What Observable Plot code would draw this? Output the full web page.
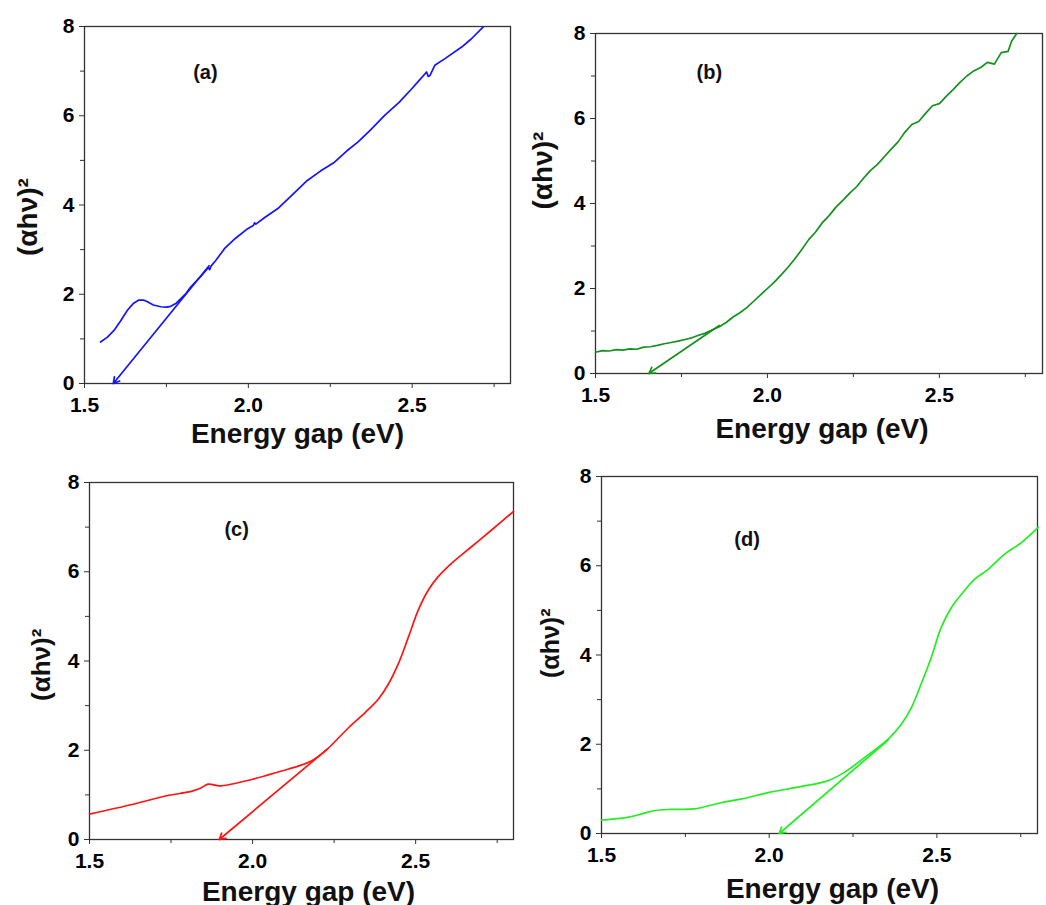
<!DOCTYPE html>
<html>
<head>
<meta charset="utf-8">
<script src="https://cdn.jsdelivr.net/npm/d3@7"></script>
<script src="https://cdn.jsdelivr.net/npm/@observablehq/plot@0.6"></script>
<style>
  html, body { margin: 0; padding: 0; background: #fff; }
  #wrap { position: relative; width: 1046px; height: 905px; overflow: hidden; background: #fff; }
  svg { font-family: "Liberation Sans", Arial, sans-serif; overflow: visible; }
</style>
</head>
<body>
<div id="wrap"></div>
<script>
// ---------- data ----------
const xTicksMajor = [1.5, 2.0, 2.5];
const xTicksMinor = [1.75, 2.25, 2.75];
const yTicksMajor = [0, 2, 4, 6, 8];
const yTicksMinor = [1, 3, 5, 7];
const xTitle = "Energy gap (eV)";
const yTitle = "(αhν)²";
const panelLabels = ["(a)", "(b)", "(c)", "(d)"];

// (a)
const aX = [1.549, 1.57, 1.59, 1.61, 1.631, 1.65, 1.666, 1.68, 1.692, 1.71, 1.733, 1.75, 1.763, 1.78, 1.794, 1.81, 1.824, 1.85, 1.87, 1.878, 1.882, 1.886, 1.90, 1.927, 1.96, 1.998, 2.015, 2.019, 2.023, 2.05, 2.09, 2.13, 2.18, 2.22, 2.263, 2.30, 2.334, 2.37, 2.416, 2.46, 2.498, 2.52, 2.544, 2.549, 2.554, 2.569, 2.60, 2.651, 2.68, 2.717];
const aY = [0.93, 1.04, 1.19, 1.40, 1.64, 1.80, 1.87, 1.87, 1.83, 1.76, 1.72, 1.71, 1.73, 1.80, 1.90, 2.02, 2.16, 2.36, 2.53, 2.60, 2.55, 2.63, 2.75, 3.02, 3.25, 3.47, 3.54, 3.60, 3.57, 3.72, 3.92, 4.20, 4.55, 4.76, 4.96, 5.21, 5.41, 5.66, 6.01, 6.30, 6.60, 6.78, 6.98, 6.88, 6.90, 7.13, 7.28, 7.54, 7.72, 7.99];
const aFitX = [1.88, 1.588];
const aFitY = [2.64, 0];

// (b)
const bX = [1.50, 1.52, 1.54, 1.56, 1.58, 1.60, 1.62, 1.64, 1.66, 1.68, 1.70, 1.72, 1.74, 1.76, 1.78, 1.80, 1.82, 1.84, 1.86, 1.88, 1.90, 1.92, 1.94, 1.96, 1.98, 2.00, 2.02, 2.04, 2.06, 2.08, 2.10, 2.12, 2.14, 2.16, 2.18, 2.20, 2.22, 2.24, 2.26, 2.28, 2.30, 2.32, 2.34, 2.36, 2.38, 2.40, 2.42, 2.44, 2.46, 2.48, 2.50, 2.52, 2.54, 2.56, 2.58, 2.60, 2.62, 2.64, 2.66, 2.68, 2.70, 2.71, 2.725];
const bY = [0.50, 0.54, 0.53, 0.56, 0.55, 0.58, 0.57, 0.62, 0.63, 0.66, 0.70, 0.73, 0.76, 0.80, 0.84, 0.90, 0.95, 1.03, 1.10, 1.20, 1.33, 1.43, 1.55, 1.70, 1.85, 2.00, 2.15, 2.32, 2.50, 2.70, 2.92, 3.15, 3.33, 3.55, 3.72, 3.92, 4.08, 4.25, 4.40, 4.60, 4.78, 4.92, 5.10, 5.28, 5.45, 5.68, 5.86, 5.93, 6.12, 6.30, 6.35, 6.52, 6.68, 6.85, 7.00, 7.12, 7.20, 7.32, 7.28, 7.55, 7.58, 7.82, 8.00];
const bFitX = [1.86, 1.655];
const bFitY = [1.13, 0];

// (c)
const cX = [1.50, 1.634, 1.736, 1.80, 1.817, 1.84, 1.863, 1.878, 1.898, 2.00, 2.091, 2.142, 2.183, 2.224, 2.295, 2.346, 2.386, 2.417, 2.447, 2.478, 2.508, 2.539, 2.569, 2.61, 2.671, 2.732, 2.80];
const cY = [0.57, 0.79, 0.98, 1.06, 1.09, 1.15, 1.24, 1.23, 1.20, 1.35, 1.54, 1.65, 1.77, 1.99, 2.51, 2.85, 3.15, 3.49, 3.94, 4.54, 5.14, 5.59, 5.89, 6.19, 6.56, 6.93, 7.35];
const cFitX = [2.23, 1.898];
const cFitY = [2.03, 0];

// (d)
const dX = [1.50, 1.577, 1.62, 1.656, 1.706, 1.776, 1.856, 1.915, 2.00, 2.094, 2.174, 2.224, 2.284, 2.354, 2.394, 2.424, 2.453, 2.483, 2.513, 2.543, 2.573, 2.613, 2.653, 2.702, 2.752, 2.802];
const dY = [0.30, 0.36, 0.44, 0.51, 0.54, 0.55, 0.69, 0.77, 0.92, 1.05, 1.18, 1.37, 1.70, 2.11, 2.45, 2.82, 3.35, 3.94, 4.62, 5.06, 5.36, 5.70, 5.92, 6.26, 6.52, 6.86];
const dFitX = [2.354, 2.030];
const dFitY = [2.09, 0];

// annotation anchor points (data coordinates) for the panel letters
const labelX = [1.869, 1.831, 1.951, 1.934];
const labelY = [6.97, 7.08, 6.95, 6.59];

// ---------- drawing ----------
const panels = [
  {xs: aX, ys: aY, fx: aFitX, fy: aFitY, color: "#1414ff", curve: "linear",
   left: 0, top: 0, width: 520, height: 450, m: [26, 10, 67, 84],
   xt: 59, xdx: 0, ydx: -56, ydy: 51, yfs: 28},
  {xs: bX, ys: bY, fx: bFitX, fy: bFitY, color: "#14901e", curve: "linear",
   left: 520, top: 0, width: 526, height: 450, m: [33, 4, 77, 75],
   xt: 64, xdx: 3, ydx: -52, ydy: 6, yfs: 28},
  {xs: cX, ys: cY, fx: cFitX, fy: cFitY, color: "#ff1414", curve: "catmull-rom",
   left: 0, top: 450, width: 520, height: 455, m: [32, 7, 66, 89],
   xt: 61, xdx: 7, ydx: -48, ydy: 40, yfs: 26},
  {xs: dX, ys: dY, fx: dFitX, fy: dFitY, color: "#22ee22", curve: "catmull-rom",
   left: 520, top: 450, width: 526, height: 455, m: [26, 9, 72, 81],
   xt: 64, xdx: 13, ydx: -51, ydy: 23, yfs: 25}
];

const wrap = document.getElementById("wrap");
panels.forEach((p, i) => {
  const pts = p.xs.map((x, k) => ({x, y: p.ys[k]}));
  const fit = [{x1: p.fx[0], y1: p.fy[0], x2: p.fx[1], y2: p.fy[1]}];
  const plot = Plot.plot({
    width: p.width,
    height: p.height,
    marginTop: p.m[0], marginRight: p.m[1], marginBottom: p.m[2], marginLeft: p.m[3],
    style: {fontFamily: "'Liberation Sans', Arial, sans-serif", background: "transparent", overflow: "visible"},
    x: {domain: [1.5, 2.8]},
    y: {domain: [0, 8]},
    marks: [
      Plot.frame({stroke: "#333", strokeWidth: 1.3}),
      Plot.axisX({ticks: xTicksMajor, tickSize: 5, tickPadding: 9, tickFormat: d3.format(".1f"), fontSize: 21, fontWeight: "bold", label: null, stroke: "#333"}),
      Plot.axisX({ticks: xTicksMinor, tickSize: 4, tickFormat: () => "", label: null, stroke: "#333"}),
      Plot.axisY({ticks: yTicksMajor, tickSize: 5, tickPadding: 5, tickFormat: d3.format("d"), fontSize: 21, fontWeight: "bold", label: null, stroke: "#333"}),
      Plot.axisY({ticks: yTicksMinor, tickSize: 4, tickFormat: () => "", label: null, stroke: "#333"}),
      Plot.line(pts, {x: "x", y: "y", stroke: p.color, strokeWidth: 1.7, curve: p.curve}),
      Plot.arrow(fit, {x1: "x1", y1: "y1", x2: "x2", y2: "y2", stroke: p.color, strokeWidth: 1.7, headLength: 6, bend: 0}),
      Plot.text([panelLabels[i]], {x: () => labelX[i], y: () => labelY[i], text: d => d, fontSize: 20, fontWeight: "bold", fill: "#111"}),
      Plot.text([xTitle], {frameAnchor: "bottom", text: d => d, dy: p.xt, dx: p.xdx, lineAnchor: "bottom", fontSize: 28, fontWeight: "bold", fill: "#111"}),
      Plot.text([yTitle], {frameAnchor: "left", text: d => d, dx: p.ydx, dy: p.ydy, rotate: -90, fontSize: p.yfs, fontWeight: "bold", fill: "#111"})
    ]
  });
  plot.style.position = "absolute";
  plot.style.left = p.left + "px";
  plot.style.top = p.top + "px";
  wrap.appendChild(plot);
});
</script>
</body>
</html>
